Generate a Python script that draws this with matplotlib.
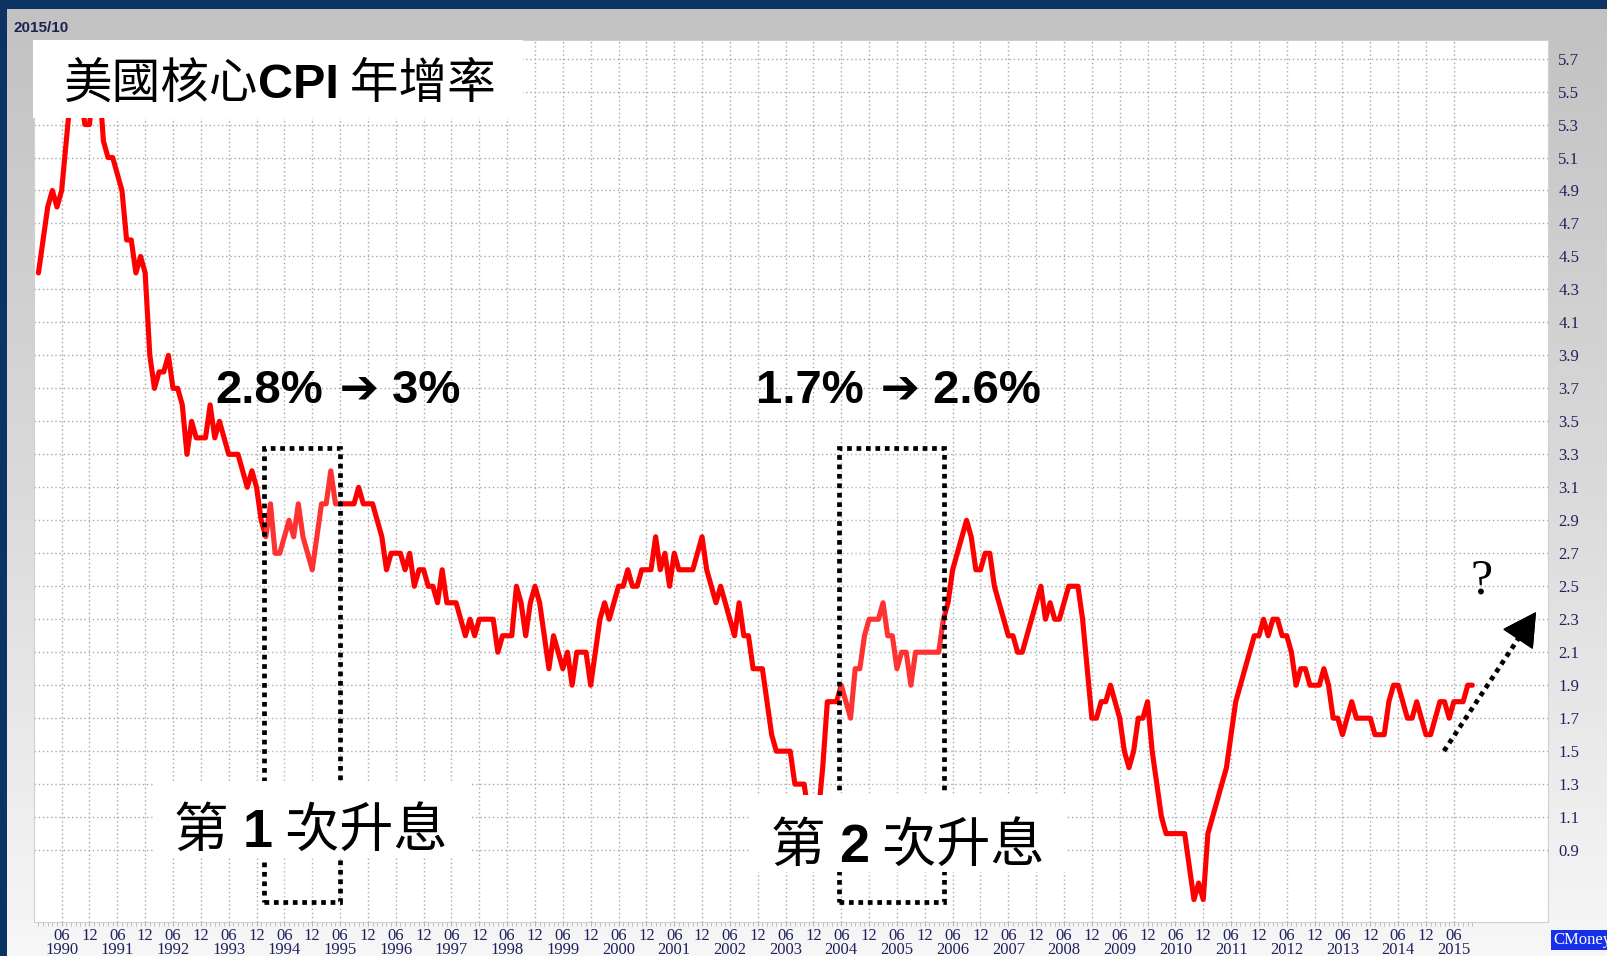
import numpy as np
import matplotlib.pyplot as plt
from matplotlib.patches import Rectangle
from matplotlib.lines import Line2D
from matplotlib.colors import LinearSegmentedColormap

plt.rcParams['font.family'] = ['Liberation Serif', 'DejaVu Serif']

# US core CPI, year-over-year %, monthly from 1990-01 to 2015-10
cpi_1990s = [
    4.4, 4.6, 4.8, 4.9, 4.8, 4.9, 5.2, 5.5, 5.5, 5.5, 5.3, 5.3,  # 1990
    5.6, 5.6, 5.2, 5.1, 5.1, 5.0, 4.9, 4.6, 4.6, 4.4, 4.5, 4.4,  # 1991
    3.9, 3.7, 3.8, 3.8, 3.9, 3.7, 3.7, 3.6, 3.3, 3.5, 3.4, 3.4,  # 1992
    3.4, 3.6, 3.4, 3.5, 3.4, 3.3, 3.3, 3.3, 3.2, 3.1, 3.2, 3.1,  # 1993
    2.9, 2.8, 3.0, 2.7, 2.7, 2.8, 2.9, 2.8, 3.0, 2.8, 2.7, 2.6,  # 1994
    2.8, 3.0, 3.0, 3.2, 3.0, 3.0, 3.0, 3.0, 3.0, 3.1, 3.0, 3.0,  # 1995
    3.0, 2.9, 2.8, 2.6, 2.7, 2.7, 2.7, 2.6, 2.7, 2.5, 2.6, 2.6,  # 1996
    2.5, 2.5, 2.4, 2.6, 2.4, 2.4, 2.4, 2.3, 2.2, 2.3, 2.2, 2.3,  # 1997
    2.3, 2.3, 2.3, 2.1, 2.2, 2.2, 2.2, 2.5, 2.4, 2.2, 2.4, 2.5,  # 1998
    2.4, 2.2, 2.0, 2.2, 2.1, 2.0, 2.1, 1.9, 2.1, 2.1, 2.1, 1.9,  # 1999
]
cpi_2000s = [
    2.1, 2.3, 2.4, 2.3, 2.4, 2.5, 2.5, 2.6, 2.5, 2.5, 2.6, 2.6,  # 2000
    2.6, 2.8, 2.6, 2.7, 2.5, 2.7, 2.6, 2.6, 2.6, 2.6, 2.7, 2.8,  # 2001
    2.6, 2.5, 2.4, 2.5, 2.4, 2.3, 2.2, 2.4, 2.2, 2.2, 2.0, 2.0,  # 2002
    2.0, 1.8, 1.6, 1.5, 1.5, 1.5, 1.5, 1.3, 1.3, 1.3, 1.1, 1.1,  # 2003
    1.1, 1.4, 1.8, 1.8, 1.8, 1.9, 1.8, 1.7, 2.0, 2.0, 2.2, 2.3,  # 2004
    2.3, 2.3, 2.4, 2.2, 2.2, 2.0, 2.1, 2.1, 1.9, 2.1, 2.1, 2.1,  # 2005
    2.1, 2.1, 2.1, 2.3, 2.4, 2.6, 2.7, 2.8, 2.9, 2.8, 2.6, 2.6,  # 2006
    2.7, 2.7, 2.5, 2.4, 2.3, 2.2, 2.2, 2.1, 2.1, 2.2, 2.3, 2.4,  # 2007
    2.5, 2.3, 2.4, 2.3, 2.3, 2.4, 2.5, 2.5, 2.5, 2.3, 2.0, 1.7,  # 2008
    1.7, 1.8, 1.8, 1.9, 1.8, 1.7, 1.5, 1.4, 1.5, 1.7, 1.7, 1.8,  # 2009
]
cpi_2010s = [
    1.5, 1.3, 1.1, 1.0, 1.0, 1.0, 1.0, 1.0, 0.8, 0.6, 0.7, 0.6,  # 2010
    1.0, 1.1, 1.2, 1.3, 1.4, 1.6, 1.8, 1.9, 2.0, 2.1, 2.2, 2.2,  # 2011
    2.3, 2.2, 2.3, 2.3, 2.2, 2.2, 2.1, 1.9, 2.0, 2.0, 1.9, 1.9,  # 2012
    1.9, 2.0, 1.9, 1.7, 1.7, 1.6, 1.7, 1.8, 1.7, 1.7, 1.7, 1.7,  # 2013
    1.6, 1.6, 1.6, 1.8, 1.9, 1.9, 1.8, 1.7, 1.7, 1.8, 1.7, 1.6,  # 2014
    1.6, 1.7, 1.8, 1.8, 1.7, 1.8, 1.8, 1.8, 1.9, 1.9,            # 2015
]
start_year = 1990
y_ticks = [0.9, 1.1, 1.3, 1.5, 1.7, 1.9, 2.1, 2.3, 2.5, 2.7, 2.9, 3.1, 3.3,
           3.5, 3.7, 3.9, 4.1, 4.3, 4.5, 4.7, 4.9, 5.1, 5.3, 5.5, 5.7]

# rate-hike periods, months since 1990-01
hike_periods = [(48.6, 65.0), (172.5, 195.2)]
hike_labels = ['1', '2']
moves = [('2.8%', '3%'), ('1.7%', '2.6%')]

values = np.array(cpi_1990s + cpi_2000s + cpi_2010s)
months = np.arange(len(values))

W, H = 1608, 956
CJK = 'Noto Sans CJK TC'
SANS = ['Liberation Sans', 'DejaVu Sans']
LABEL_C = '#20205e'


def fx(x):
    return x / W


def fy(y):
    return 1 - y / H


fig = plt.figure(figsize=(W / 100, H / 100), dpi=100)
fig.patch.set_facecolor('#0b3463')

# gray panel behind the chart
bg = fig.add_axes([7 / W, 0, 1 - 7 / W, 1 - 9 / H], zorder=-5)
cmap = LinearSegmentedColormap.from_list('panel', ['#c2c2c2', '#dadada', '#f7f7f7'])
bg.imshow(np.linspace(0, 1, 256).reshape(-1, 1), aspect='auto', cmap=cmap,
          extent=[0, 1, 0, 1], origin='upper')
bg.axis('off')

ax = fig.add_axes([fx(33.8), fy(922), (1548.5 - 33.8) / W, (922 - 39.6) / H])
ax.set_facecolor('white')
ax.plot(months, values, color='#ff0000', lw=3.7, solid_joinstyle='round',
        solid_capstyle='round', zorder=3)

ax.set_xlim(-1.0, 325.4)
ax.set_ylim(0.464, 5.815)

# x ticks at June / December
major = np.arange(5, len(values), 6)
labels = []
for k in major:
    if k % 12 == 5:
        labels.append('06\n%d' % (start_year + k // 12))
    else:
        labels.append('12')
ax.set_xticks(major)
ax.set_xticklabels(labels, fontsize=12, color=LABEL_C, linespacing=0.85)
ax.set_xticks(months, minor=True)
ax.tick_params(axis='x', which='both', length=3, color='#b5b5b5', pad=1)

ax.yaxis.tick_right()
ax.set_yticks(y_ticks)
ax.set_yticklabels(['%.1f' % v for v in y_ticks])
ax.tick_params(axis='y', length=0, pad=7, labelsize=12, labelcolor=LABEL_C)

ax.set_axisbelow(True)
ax.grid(True, which='major', color='#a8a8a8', ls=(0, (1, 2)), lw=1.0)
for s in ax.spines.values():
    s.set_color('#d0d0d0')

# dotted boxes for the rate-hike periods
for a, b in hike_periods:
    ax.add_patch(Rectangle((a, 0.585), b - a, 3.34 - 0.585, fc='white', alpha=0.2,
                           ec='none', zorder=4))
    ax.add_patch(Rectangle((a, 0.585), b - a, 3.34 - 0.585, fill=False, ec='black',
                           lw=3.4, ls=(0, (1, 1)), zorder=5))

# white boxes (figure pixels, top-left origin)
for x0, y0, x1, y1 in [(33, 39.6, 523, 118), (153, 781, 470, 858), (750, 795, 1067, 872)]:
    fig.add_artist(Rectangle((fx(x0), fy(y1)), (x1 - x0) / W, (y1 - y0) / H,
                             transform=fig.transFigure, fc='white', ec='none', zorder=2))

renderer = fig.canvas.get_renderer()


def put_run(x, y, pieces, size):
    for s, fam, wt in pieces:
        t = fig.text(fx(x), fy(y), s, fontsize=size, family=fam, weight=wt,
                     ha='left', va='baseline', color='black', zorder=6)
        x += t.get_window_extent(renderer).width


put_run(63.5, 98, [('美國核心', CJK, 'normal'), ('CPI', SANS, 'bold'),
                   (' 年增率', CJK, 'normal')], 35)
put_run(174, 847, [('第', CJK, 'normal'), (' ' + hike_labels[0], SANS, 'bold'),
                   (' 次升息', CJK, 'normal')], 39)
put_run(771, 861.5, [('第', CJK, 'normal'), (' ' + hike_labels[1], SANS, 'bold'),
                     (' 次升息', CJK, 'normal')], 39)

for x0, (a, b) in zip([215, 756], moves):
    put_run(x0, 403, [(a, SANS, 'bold'), (' \u2794', ['DejaVu Sans'], 'bold'),
                      (' ' + b, SANS, 'bold')], 34)

# dotted arrow (shaft dotted, head solid) and question mark
fig.add_artist(Line2D([fx(1444), fx(1522)], [fy(751), fy(633)], transform=fig.transFigure,
                      color='black', lw=3.4, ls=(0, (1, 1)), zorder=5))
fig.add_artist(plt.annotate('', xy=(fx(1536), fy(612)), xytext=(fx(1524), fy(630)),
                            xycoords='figure fraction', textcoords='figure fraction',
                            arrowprops=dict(arrowstyle='-|>,head_length=1.0,head_width=0.55',
                                            lw=1, color='black', mutation_scale=22,
                                            shrinkA=0, shrinkB=0)))
fig.text(fx(1482), fy(581), '?', fontsize=36, ha='center', va='center', color='black')

fig.text(fx(14), fy(27.5), '2015/10', fontsize=11, family=SANS, weight='bold',
         color='#1b2350', va='center')
fig.text(fx(1553), fy(940), 'CMoney', fontsize=12, color='white', va='center',
         bbox=dict(boxstyle='square,pad=0.12', fc='#1530e8', ec='none'))

fig.savefig('out.png', dpi=100, facecolor=fig.get_facecolor())
